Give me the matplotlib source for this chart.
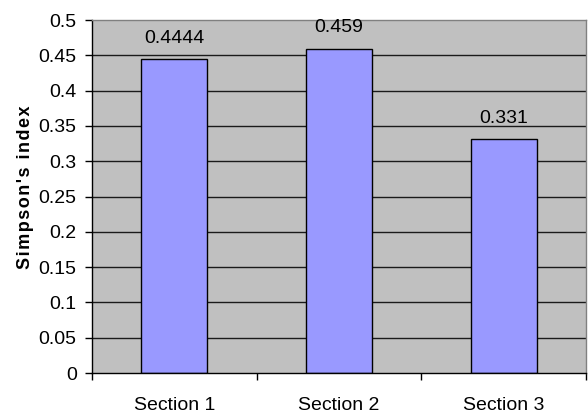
import matplotlib
matplotlib.use("Agg")
import matplotlib.pyplot as plt
import numpy as np

categories = ["Section 1", "Section 2", "Section 3"]
values = [0.4444, 0.459, 0.331]
value_labels = ["0.4444", "0.459", "0.331"]
yticks = [0, 0.05, 0.1, 0.15, 0.2, 0.25, 0.3, 0.35, 0.4, 0.45, 0.5]
ytick_labels = ["0", "0.05", "0.1", "0.15", "0.2", "0.25", "0.3", "0.35", "0.4", "0.45", "0.5"]

plt.rcParams["font.family"] = ["Liberation Sans", "DejaVu Sans"]

fig = plt.figure(figsize=(5.88, 4.19), dpi=100)
ax = fig.add_axes([92 / 588, 46 / 419, 494 / 588, 353 / 419])
ax.set_facecolor("#C0C0C0")

x = np.arange(len(categories))
ax.set_xlim(-0.5, len(categories) - 0.5)
ax.set_ylim(0, 0.5)

# horizontal gridlines
for yv in yticks[1:-1]:
    ax.axhline(yv, color="#1a1a1a", lw=1.0, zorder=1)

ax.bar(x, values, width=0.4, color="#9999FF", edgecolor="black", lw=1.0, zorder=2)

for xi, v, lab in zip(x, values, value_labels):
    ax.annotate(lab, (xi, v), xytext=(0, 9), textcoords="offset points",
                ha="center", va="bottom", fontsize=14, color="black")

ax.set_yticks(yticks)
ax.set_yticklabels(ytick_labels, fontsize=14)
ax.tick_params(axis="y", direction="out", length=5, width=1, pad=6)

# category ticks sit at the boundaries, labels at the centres
ax.set_xticks(np.arange(len(categories) + 1) - 0.5)
ax.set_xticklabels([])
ax.set_xticks(x, minor=True)
ax.set_xticklabels(categories, minor=True, fontsize=14)
ax.tick_params(axis="x", which="major", direction="out", length=5, width=1)
ax.tick_params(axis="x", which="minor", length=0, pad=17)

for side in ("top", "right"):
    ax.spines[side].set_color("#808080")
    ax.spines[side].set_linewidth(1.0)
for side in ("left", "bottom"):
    ax.spines[side].set_color("black")
    ax.spines[side].set_linewidth(1.0)

ylabel = "\u200a".join("Simpson's index")
ax.set_ylabel(ylabel, fontsize=13, fontweight="bold")
ax.yaxis.set_label_coords(-0.118, 0.527)

fig.savefig("out.png", dpi=100)
